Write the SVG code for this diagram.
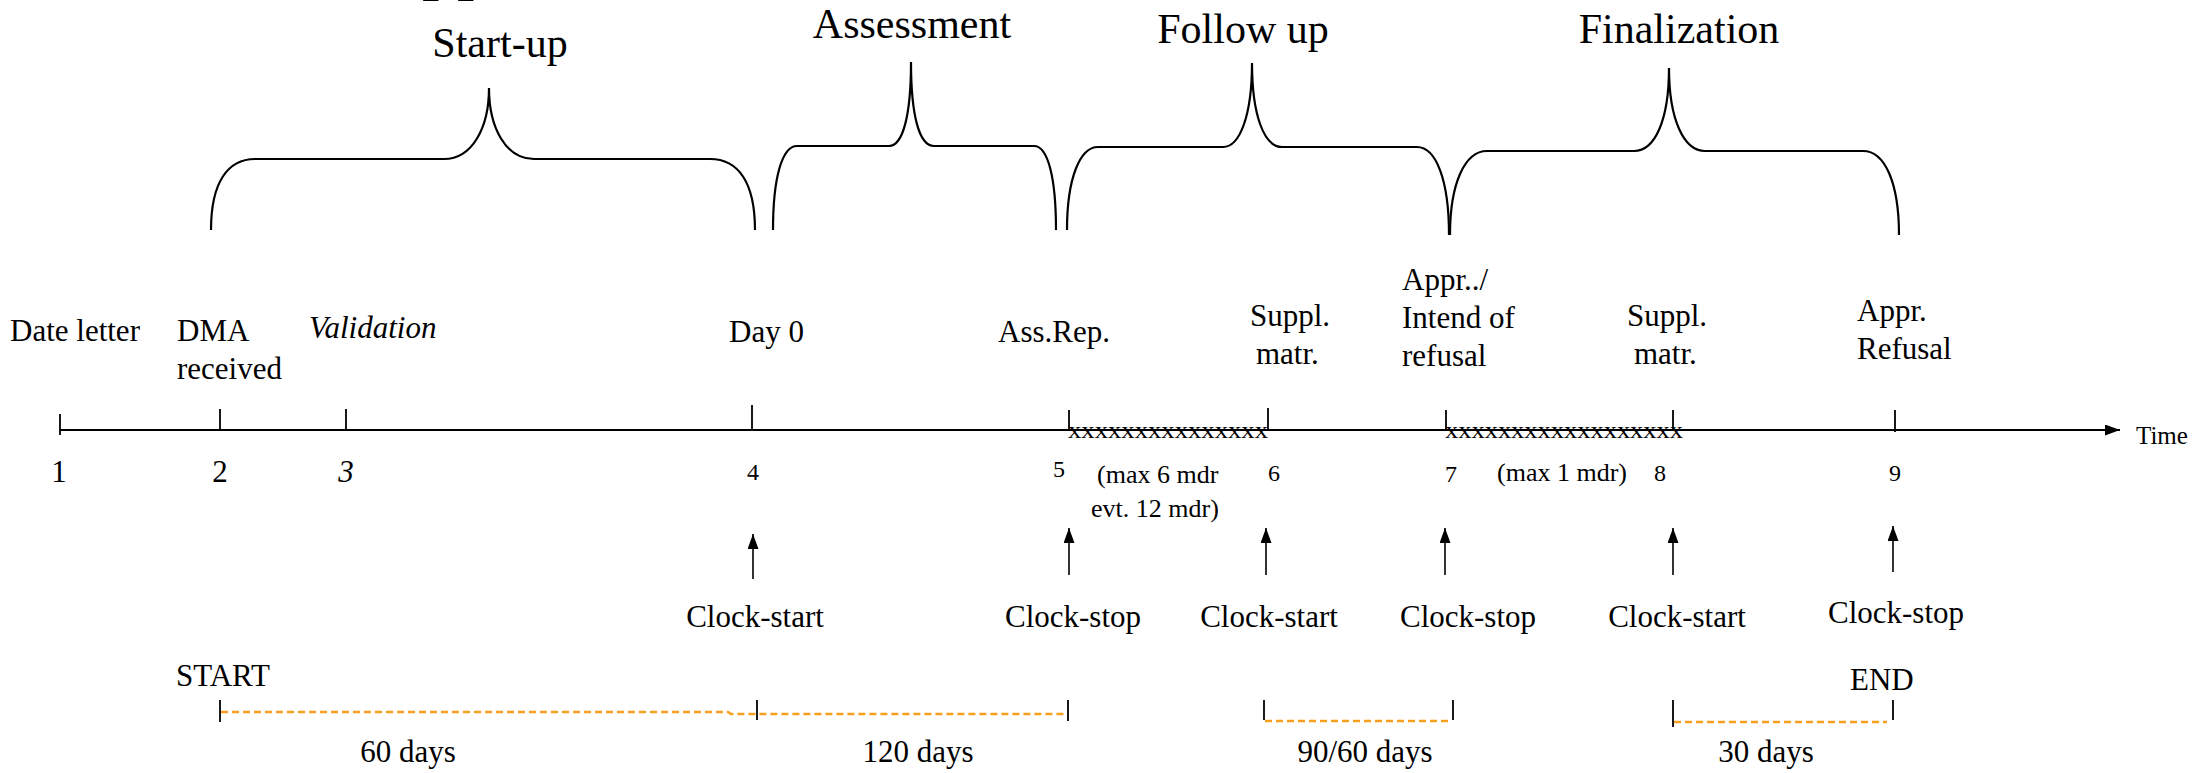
<svg xmlns="http://www.w3.org/2000/svg" width="2199" height="773" viewBox="0 0 2199 773">
<defs>
<style>
text{font-family:"Liberation Serif","Times New Roman",serif;fill:#000}
.ttl{font-size:42px;text-anchor:middle}
.lbl{font-size:31px}
.num{font-size:24px;text-anchor:middle}
.big{font-size:31px;text-anchor:middle}
.sm{font-size:26px}
.clk{font-size:31px;text-anchor:middle}
.brace{fill:none;stroke:#000;stroke-width:2.2}
.tick{stroke:#000;stroke-width:1.8}
.axis{stroke:#000;stroke-width:2.2}
.arr{stroke:#000;stroke-width:1.6;marker-end:url(#ah)}
.dash{stroke:#F7A01E;stroke-width:2.5;stroke-dasharray:7 4;fill:none}
.xx{font-size:24px}
</style>
<marker id="ah" viewBox="0 0 10 10" refX="10" refY="5" markerWidth="15" markerHeight="11" markerUnits="userSpaceOnUse" orient="auto" preserveAspectRatio="none"><path d="M0,0 L10,5 L0,10 z" fill="#000"/></marker>
</defs>
<rect width="2199" height="773" fill="#fff"/>

<text x="422" y="-14" style="font-size:70px">pp</text>

<g id="phase-startup">
<path class="brace" d="M211,230 C211,182 228,159 255,159 L444,159 C472,159 489,128 489,88 C489,128 506,159 534,159 L710,159 C738,159 755,182 755,230"/>
<text class="ttl" x="500" y="57">Start-up</text>
</g>
<g id="phase-assessment">
<path class="brace" d="M773,230 C773,178 782,146 797,146 L889,146 C903,146 911,115 911,62 C911,115 919,146 934,146 L1034,146 C1048,146 1056,178 1056,230"/>
<text class="ttl" x="912" y="38">Assessment</text>
</g>
<g id="phase-followup">
<path class="brace" d="M1067,230 C1067,178 1080,147 1098,147 L1223,147 C1240,147 1252,115 1252,63 C1252,115 1264,147 1282,147 L1417,147 C1436,147 1449,180 1449,235"/>
<text class="ttl" x="1243" y="43">Follow up</text>
</g>
<g id="phase-finalization">
<path class="brace" d="M1450,235 C1450,183 1465,151 1487,151 L1634,151 C1655,151 1669,120 1669,68 C1669,120 1684,151 1705,151 L1863,151 C1885,151 1899,183 1899,235"/>
<text class="ttl" x="1679" y="43">Finalization</text>
</g>

<g id="connectors">
<line class="axis" x1="60" y1="430" x2="2120" y2="430" marker-end="url(#ah)"/>
<line class="tick" x1="60" y1="414" x2="60" y2="435"/>
<line class="tick" x1="220" y1="409" x2="220" y2="430"/>
<line class="tick" x1="346" y1="409" x2="346" y2="430"/>
<line class="tick" x1="752" y1="405" x2="752" y2="430"/>
<line class="tick" x1="1069" y1="410" x2="1069" y2="430"/>
<line class="tick" x1="1268" y1="408" x2="1268" y2="430"/>
<line class="tick" x1="1446" y1="410" x2="1446" y2="430"/>
<line class="tick" x1="1673" y1="410" x2="1673" y2="430"/>
<line class="tick" x1="1895" y1="410" x2="1895" y2="432"/>

<line class="arr" x1="753" y1="579" x2="753" y2="534"/>
<line class="arr" x1="1069" y1="575" x2="1069" y2="528"/>
<line class="arr" x1="1266" y1="575" x2="1266" y2="528"/>
<line class="arr" x1="1445" y1="575" x2="1445" y2="528"/>
<line class="arr" x1="1673" y1="575" x2="1673" y2="528"/>
<line class="arr" x1="1893" y1="572" x2="1893" y2="526"/>

<line class="tick" x1="220" y1="700" x2="220" y2="722"/>
<line class="tick" x1="757" y1="700" x2="757" y2="720"/>
<line class="tick" x1="1068" y1="700" x2="1068" y2="721"/>
<line class="tick" x1="1264" y1="700" x2="1264" y2="720"/>
<line class="tick" x1="1453" y1="700" x2="1453" y2="720"/>
<line class="tick" x1="1673" y1="700" x2="1673" y2="727"/>
<line class="tick" x1="1893" y1="700" x2="1893" y2="720"/>
<path class="dash" d="M221,712 L728,712 L731,714 L1067,714"/>
<path class="dash" d="M1265,721 L1452,721"/>
<path class="dash" d="M1674,722 L1887,722"/>
</g>

<g id="xmarks">
<text class="xx" x="1068" y="438" textLength="200" lengthAdjust="spacingAndGlyphs">xxxxxxxxxxxxxxx</text>
<text class="xx" x="1445" y="438" textLength="238" lengthAdjust="spacingAndGlyphs">xxxxxxxxxxxxxxxxxx</text>
</g>

<g id="milestone-1"><text class="lbl" x="10" y="341">Date letter</text><text class="big" x="59" y="482">1</text></g>
<g id="milestone-2"><text class="lbl" x="177" y="341">DMA</text><text class="lbl" x="177" y="379">received</text><text class="big" x="220" y="482">2</text></g>
<g id="milestone-3"><text class="lbl" x="309" y="338" font-style="italic">Validation</text><text class="big" x="346" y="482" font-style="italic">3</text></g>
<g id="milestone-4"><text class="lbl" x="729" y="342">Day 0</text><text class="num" x="753" y="480">4</text><text class="clk" x="755" y="627">Clock-start</text></g>
<g id="milestone-5"><text class="lbl" x="998" y="342">Ass.Rep.</text><text class="num" x="1059" y="477">5</text><text class="clk" x="1073" y="627">Clock-stop</text></g>
<g id="gap-1"><text class="sm" x="1097" y="483">(max 6 mdr</text><text class="sm" x="1091" y="517">evt. 12 mdr)</text></g>
<g id="milestone-6"><text class="lbl" x="1250" y="326">Suppl.</text><text class="lbl" x="1256" y="364">matr.</text><text class="num" x="1274" y="481">6</text><text class="clk" x="1269" y="627">Clock-start</text></g>
<g id="milestone-7"><text class="lbl" x="1402" y="290">Appr../</text><text class="lbl" x="1402" y="328">Intend of</text><text class="lbl" x="1402" y="366">refusal</text><text class="num" x="1451" y="482">7</text><text class="clk" x="1468" y="627">Clock-stop</text></g>
<g id="gap-2"><text class="sm" x="1497" y="481">(max 1 mdr)</text></g>
<g id="milestone-8"><text class="lbl" x="1627" y="326">Suppl.</text><text class="lbl" x="1634" y="364">matr.</text><text class="num" x="1660" y="481">8</text><text class="clk" x="1677" y="627">Clock-start</text></g>
<g id="milestone-9"><text class="lbl" x="1857" y="321">Appr.</text><text class="lbl" x="1857" y="359">Refusal</text><text class="num" x="1895" y="481">9</text><text class="clk" x="1896" y="623">Clock-stop</text></g>
<g id="time-label"><text x="2136" y="444" style="font-size:25px">Time</text></g>

<g id="start"><text class="lbl" x="176" y="686">START</text></g>
<g id="end"><text class="lbl" x="1850" y="690">END</text></g>
<g id="dur-60"><text class="big" x="408" y="762">60 days</text></g>
<g id="dur-120"><text class="big" x="918" y="762">120 days</text></g>
<g id="dur-90"><text class="big" x="1365" y="762">90/60 days</text></g>
<g id="dur-30"><text class="big" x="1766" y="762">30 days</text></g>
</svg>
